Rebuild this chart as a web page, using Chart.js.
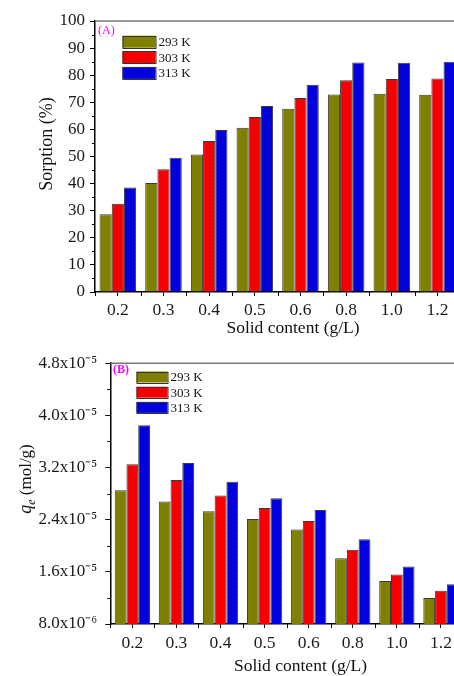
<!DOCTYPE html>
<html><head><meta charset="utf-8">
<script src="https://cdn.jsdelivr.net/npm/chart.js@4/dist/chart.umd.min.js"></script>
<style>
html,body{margin:0;padding:0;background:#fff;overflow:hidden;width:454px;height:676px;position:relative;}
.wrap{position:absolute;left:0;width:470px;}
#wa{top:0;height:345px;}
#wb{top:345px;height:331px;}
canvas{display:block;}
</style></head><body>
<div class="wrap" id="wa"><canvas id="ca" width="470" height="345"></canvas></div>
<div class="wrap" id="wb"><canvas id="cb" width="470" height="331"></canvas></div>
<script>
// ---------- DATA ----------
const categories = ['0.2','0.3','0.4','0.5','0.6','0.8','1.0','1.2'];
const seriesLabels = ['293 K','303 K','313 K'];
const sorption293 = [28.7,40.2,50.7,60.6,67.6,72.9,73.2,72.8];
const sorption303 = [32.6,45.3,55.7,64.6,71.6,78.1,78.6,78.8];
const sorption313 = [38.6,49.5,59.8,68.6,76.5,84.7,84.6,85.0];
const qe293 = [2.85e-5,2.68e-5,2.53e-5,2.41e-5,2.25e-5,1.81e-5,1.46e-5,1.20e-5];
const qe303 = [3.25e-5,3.01e-5,2.77e-5,2.58e-5,2.38e-5,1.94e-5,1.56e-5,1.31e-5];
const qe313 = [3.85e-5,3.27e-5,2.98e-5,2.73e-5,2.55e-5,2.10e-5,1.68e-5,1.41e-5];
const sorptionTickValues = [0,10,20,30,40,50,60,70,80,90,100];
const sorptionMinorTicks = [5,15,25,35,45,55,65,75,85,95];
const qeTickValues = [8e-6,1.6e-5,2.4e-5,3.2e-5,4.0e-5,4.8e-5];
const qeTickLabels = ['8.0x10\u207B\u2076','1.6x10\u207B\u2075','2.4x10\u207B\u2075','3.2x10\u207B\u2075','4.0x10\u207B\u2075','4.8x10\u207B\u2075'];
const qeMinorTicks = [1.2e-5,2.0e-5,2.8e-5,3.6e-5,4.4e-5];
const xTitle = 'Solid content (g/L)';

// ---------- STYLE ----------
const FONT = "'Liberation Serif','Times New Roman',serif";
function makePattern(ctx, base, line, type){
  const c = document.createElement('canvas'); c.width = 4; c.height = 4;
  const g = c.getContext('2d');
  g.fillStyle = base; g.fillRect(0,0,4,4);
  if (type){
    g.strokeStyle = line; g.lineWidth = 1;
    g.beginPath(); g.moveTo(0,4); g.lineTo(4,0); g.moveTo(-1,1); g.lineTo(1,-1); g.moveTo(3,5); g.lineTo(5,3); g.stroke();
    if (type === 'cross'){
      g.beginPath(); g.moveTo(0,0); g.lineTo(4,4); g.moveTo(-1,3); g.lineTo(1,5); g.moveTo(3,-1); g.lineTo(5,1); g.stroke();
    }
  }
  return ctx.createPattern(c,'repeat');
}

function decor(opt){
  return {
    id: 'decor',
    afterDraw(chart){
      const ctx = chart.ctx, ca = chart.chartArea;
      const xs = chart.scales.x, ys = chart.scales.y;
      ctx.save();
      // top frame line
      ctx.strokeStyle = '#777'; ctx.lineWidth = 1.6;
      ctx.beginPath(); ctx.moveTo(ca.left, ca.top); ctx.lineTo(ca.right + 20, ca.top); ctx.stroke();
      // x boundary ticks
      ctx.strokeStyle = '#000'; ctx.lineWidth = 1;
      const n = chart.data.labels.length;
      const step = (xs.getPixelForValue(1) - xs.getPixelForValue(0));
      for (let i = 0; i <= n; i++){
        const x = Math.round(xs.getPixelForValue(0) - step/2 + i*step) + 0.5;
        ctx.beginPath(); ctx.moveTo(x, ca.bottom); ctx.lineTo(x, ca.bottom + 4); ctx.stroke();
      }
      // y minor ticks
      opt.minor.forEach(v => {
        const y = Math.round(ys.getPixelForValue(v)) + 0.5;
        ctx.beginPath(); ctx.moveTo(ca.left - 3, y); ctx.lineTo(ca.left, y); ctx.stroke();
      });
      // tag
      ctx.fillStyle = '#ff00ff'; ctx.font = opt.tag.font; ctx.textBaseline = 'middle'; ctx.textAlign = 'left';
      ctx.fillText(opt.tag.text, opt.tag.x, opt.tag.y);
      // legend
      const L = opt.legend;
      chart.data.datasets.forEach((ds, i) => {
        const yc = L.y + i*L.dy;
        ctx.fillStyle = ds.backgroundColor;
        ctx.fillRect(L.x, yc - L.h/2, L.w, L.h);
        ctx.strokeStyle = '#333'; ctx.lineWidth = 1;
        ctx.strokeRect(L.x + 0.5, Math.round(yc - L.h/2) + 0.5, L.w, L.h);
        ctx.fillStyle = '#111'; ctx.font = L.font; ctx.textBaseline = 'middle';
        ctx.fillText(ds.label, L.x + L.w + 3, yc + 1);
      });
      // x title
      ctx.fillStyle = '#111'; ctx.font = opt.xt.font; ctx.textAlign = 'center'; ctx.textBaseline = 'middle';
      ctx.fillText(xTitle, opt.xt.x, opt.xt.y);
      // y title
      ctx.translate(opt.yt.x, opt.yt.y); ctx.rotate(-Math.PI/2);
      opt.yt.draw(ctx);
      ctx.restore();
    }
  };
}

function build(id, dataArrays, yScale, padding, yWidth, xHeight, xPad, opt){
  const canvas = document.getElementById(id);
  const ctx = canvas.getContext('2d');
  const fills = [
    makePattern(ctx, '#808000', null, null),
    makePattern(ctx, '#ff0000', 'rgba(150,0,0,0.35)', 'diag'),
    makePattern(ctx, '#0000ff', 'rgba(0,0,90,0.4)', 'cross')
  ];
  return new Chart(ctx, {
    type: 'bar',
    data: {
      labels: categories,
      datasets: dataArrays.map((d, i) => ({
        label: seriesLabels[i], data: d,
        backgroundColor: fills[i], borderColor: '#3a3a3a', borderWidth: 1,
        barPercentage: 1.0, categoryPercentage: 0.8
      }))
    },
    options: {
      responsive: false, animation: false, devicePixelRatio: 1,
      layout: { padding: padding },
      plugins: { legend: { display: false }, tooltip: { enabled: false } },
      scales: {
        x: {
          offset: true,
          grid: { offset: false, drawOnChartArea: false, drawTicks: true, tickLength: 4, color: '#000' },
          border: { display: true, color: '#000', width: 1.5 },
          ticks: { color: '#1a1a1a', font: { family: FONT, size: 17.5 }, padding: xPad, maxRotation: 0, autoSkip: false },
          afterFit(s){ s.height = xHeight; }
        },
        y: Object.assign({
          grid: { drawOnChartArea: false, drawTicks: true, tickLength: 5, color: '#000' },
          border: { display: true, color: '#000', width: 1.5 },
          afterFit(s){ s.width = yWidth; }
        }, yScale)
      }
    },
    plugins: [decor(opt)]
  });
}

build('ca', [sorption293, sorption303, sorption313], {
  min: 0, max: 100,
  afterBuildTicks(s){ s.ticks = sorptionTickValues.map(v => ({ value: v })); },
  ticks: { color: '#1a1a1a', font: { family: FONT, size: 17 }, padding: 5, callback: (v) => String(v) }
}, { top: 21, right: 9.7, left: 0, bottom: 0 }, 95, 53, 4, {
  minor: sorptionMinorTicks,
  tag: { text: '(A)', x: 98, y: 31, font: "12px " + FONT },
  legend: { x: 122.5, y: 41.7, dy: 15.6, w: 33, h: 12, font: "13px " + FONT },
  xt: { x: 293, y: 328, font: "17.5px " + FONT },
  yt: { x: 47, y: 144, draw(ctx){
    ctx.fillStyle = '#111'; ctx.font = "18px " + FONT; ctx.textAlign = 'center'; ctx.textBaseline = 'middle';
    ctx.fillText('Sorption (%)', 0, 0);
  } }
});

build('cb', [qe293, qe303, qe313], {
  min: 8e-6, max: 4.8e-5,
  afterBuildTicks(s){ s.ticks = qeTickValues.map(v => ({ value: v })); },
  ticks: { color: '#1a1a1a', font: { family: FONT, size: 17 }, padding: 8,
    callback: (v, i) => qeTickLabels[i] }
}, { top: 17, right: 7, left: 0, bottom: 0 }, 110.3, 52, 5, {
  minor: qeMinorTicks,
  tag: { text: '(B)', x: 113, y: 25, font: "bold 12px " + FONT },
  legend: { x: 136.5, y: 32, dy: 15.2, w: 31, h: 11, font: "13px " + FONT },
  xt: { x: 300.5, y: 321, font: "17.5px " + FONT },
  yt: { x: 25, y: 134, draw(ctx){
    ctx.fillStyle = '#111'; ctx.textBaseline = 'alphabetic'; ctx.textAlign = 'left';
    const fq = "italic 18px " + FONT, fe = "italic 12px " + FONT, fr = "17px " + FONT;
    ctx.font = fq; const wq = ctx.measureText('q').width;
    ctx.font = fe; const we = ctx.measureText('e').width;
    ctx.font = fr; const wr = ctx.measureText(' (mol/g)').width;
    let x0 = -(wq + we + wr) / 2; const base = 6;
    ctx.font = fq; ctx.fillText('q', x0, base); x0 += wq;
    ctx.font = fe; ctx.fillText('e', x0, base + 4); x0 += we;
    ctx.font = fr; ctx.fillText(' (mol/g)', x0, base);
  } }
});
</script>
</body></html>
